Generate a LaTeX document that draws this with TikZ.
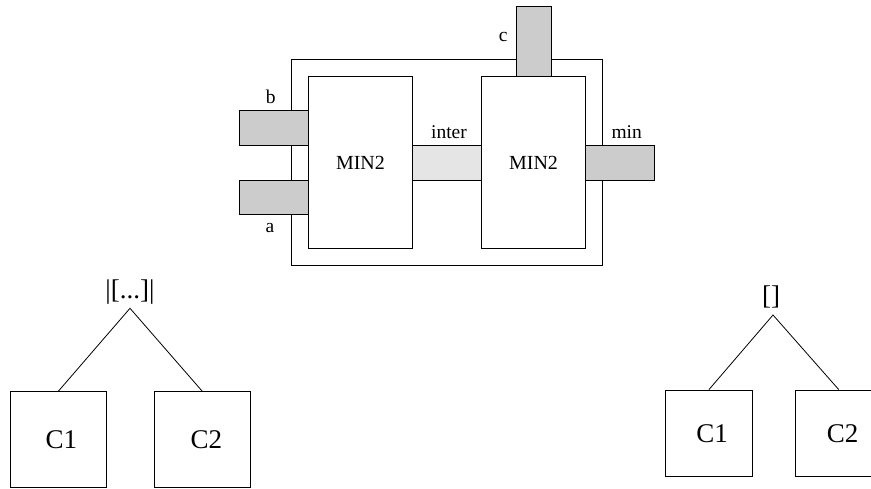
\documentclass[tikz,border=0pt]{standalone}
\usepackage{fontspec}
\setmainfont{Liberation Serif}
\begin{document}
\begin{tikzpicture}[x=1pt,y=-1pt,
  box/.style={draw=black,line width=0.8pt,fill=white,rectangle,inner sep=0pt},
  port/.style={draw=black,line width=0.8pt,fill=black!20,rectangle,inner sep=0pt,minimum width=#1},
  wire/.style={draw=black,line width=0.8pt,fill=black!10,rectangle,inner sep=0pt},
  lbl/.style={font=\fontsize{19.5}{22}\selectfont,inner sep=0pt},
  big/.style={font=\fontsize{27}{30}\selectfont},
  tree/.style={draw=black,line width=0.8pt,rectangle,inner sep=0pt},
  edge/.style={line width=0.8pt}]
\useasboundingbox (0,0) rectangle (871,489);
\clip (0,0) rectangle (871,489);
% top circuit
\node[box,minimum width=311pt,minimum height=206.7pt] (outer) at (447.2,162.35) {};
\node[port=34.7pt,minimum height=69.6pt] (c) at (533.65,41.5) {};
\node[port=69.4pt,minimum height=34.6pt] (b) at (274,128) {};
\node[port=69.4pt,minimum height=34pt] (a) at (274,197) {};
\node[wire,minimum width=69.4pt,minimum height=34.7pt] (inter) at (447,162.65) {};
\node[port=69pt,minimum height=34.7pt] (min) at (619.8,162.65) {};
\node[box,minimum width=103.6pt,minimum height=172.4pt,font=\fontsize{20}{22}\selectfont] (m1) at (360.5,162.5) {MIN2};
\node[box,minimum width=103.6pt,minimum height=172.4pt,font=\fontsize{20}{22}\selectfont] (m2) at (533.5,162.5) {MIN2};
\node[lbl] (lc) at (503.3,36.7) {c};
\node[lbl] (lb) at (270.7,97.3) {b};
\node[lbl] (la) at (270,227.7) {a};
\node[lbl] (linter) at (449,131.7) {inter};
\node[lbl] (lmin) at (626.7,131.7) {min};
% left tree
\node[big,inner sep=0pt] (t1) at (130,292) {|[...]|};
\coordinate (p1) at (130,308.3);
\node[tree,big,minimum width=96pt,minimum height=96pt] (c11) at (58.3,439.7) {\hspace{6pt}C1};
\node[tree,big,minimum width=96pt,minimum height=96pt] (c12) at (202.3,439.7) {\hspace{8pt}C2};
\draw[edge] (c11.north) -- (p1) -- (c12.north);
% right tree
\node[big,inner sep=0pt] (t2) at (771,297) {[]};
\coordinate (p2) at (773,315);
\node[tree,big,minimum width=86.7pt,minimum height=86.7pt] (c21) at (709,433.3) {\hspace{6pt}C1};
\node[tree,big,minimum width=86.7pt,minimum height=86.7pt] (c22) at (838.7,433.3) {\hspace{8pt}C2};
\draw[edge] (c21.north) -- (p2) -- (c22.north);
\end{tikzpicture}
\end{document}
